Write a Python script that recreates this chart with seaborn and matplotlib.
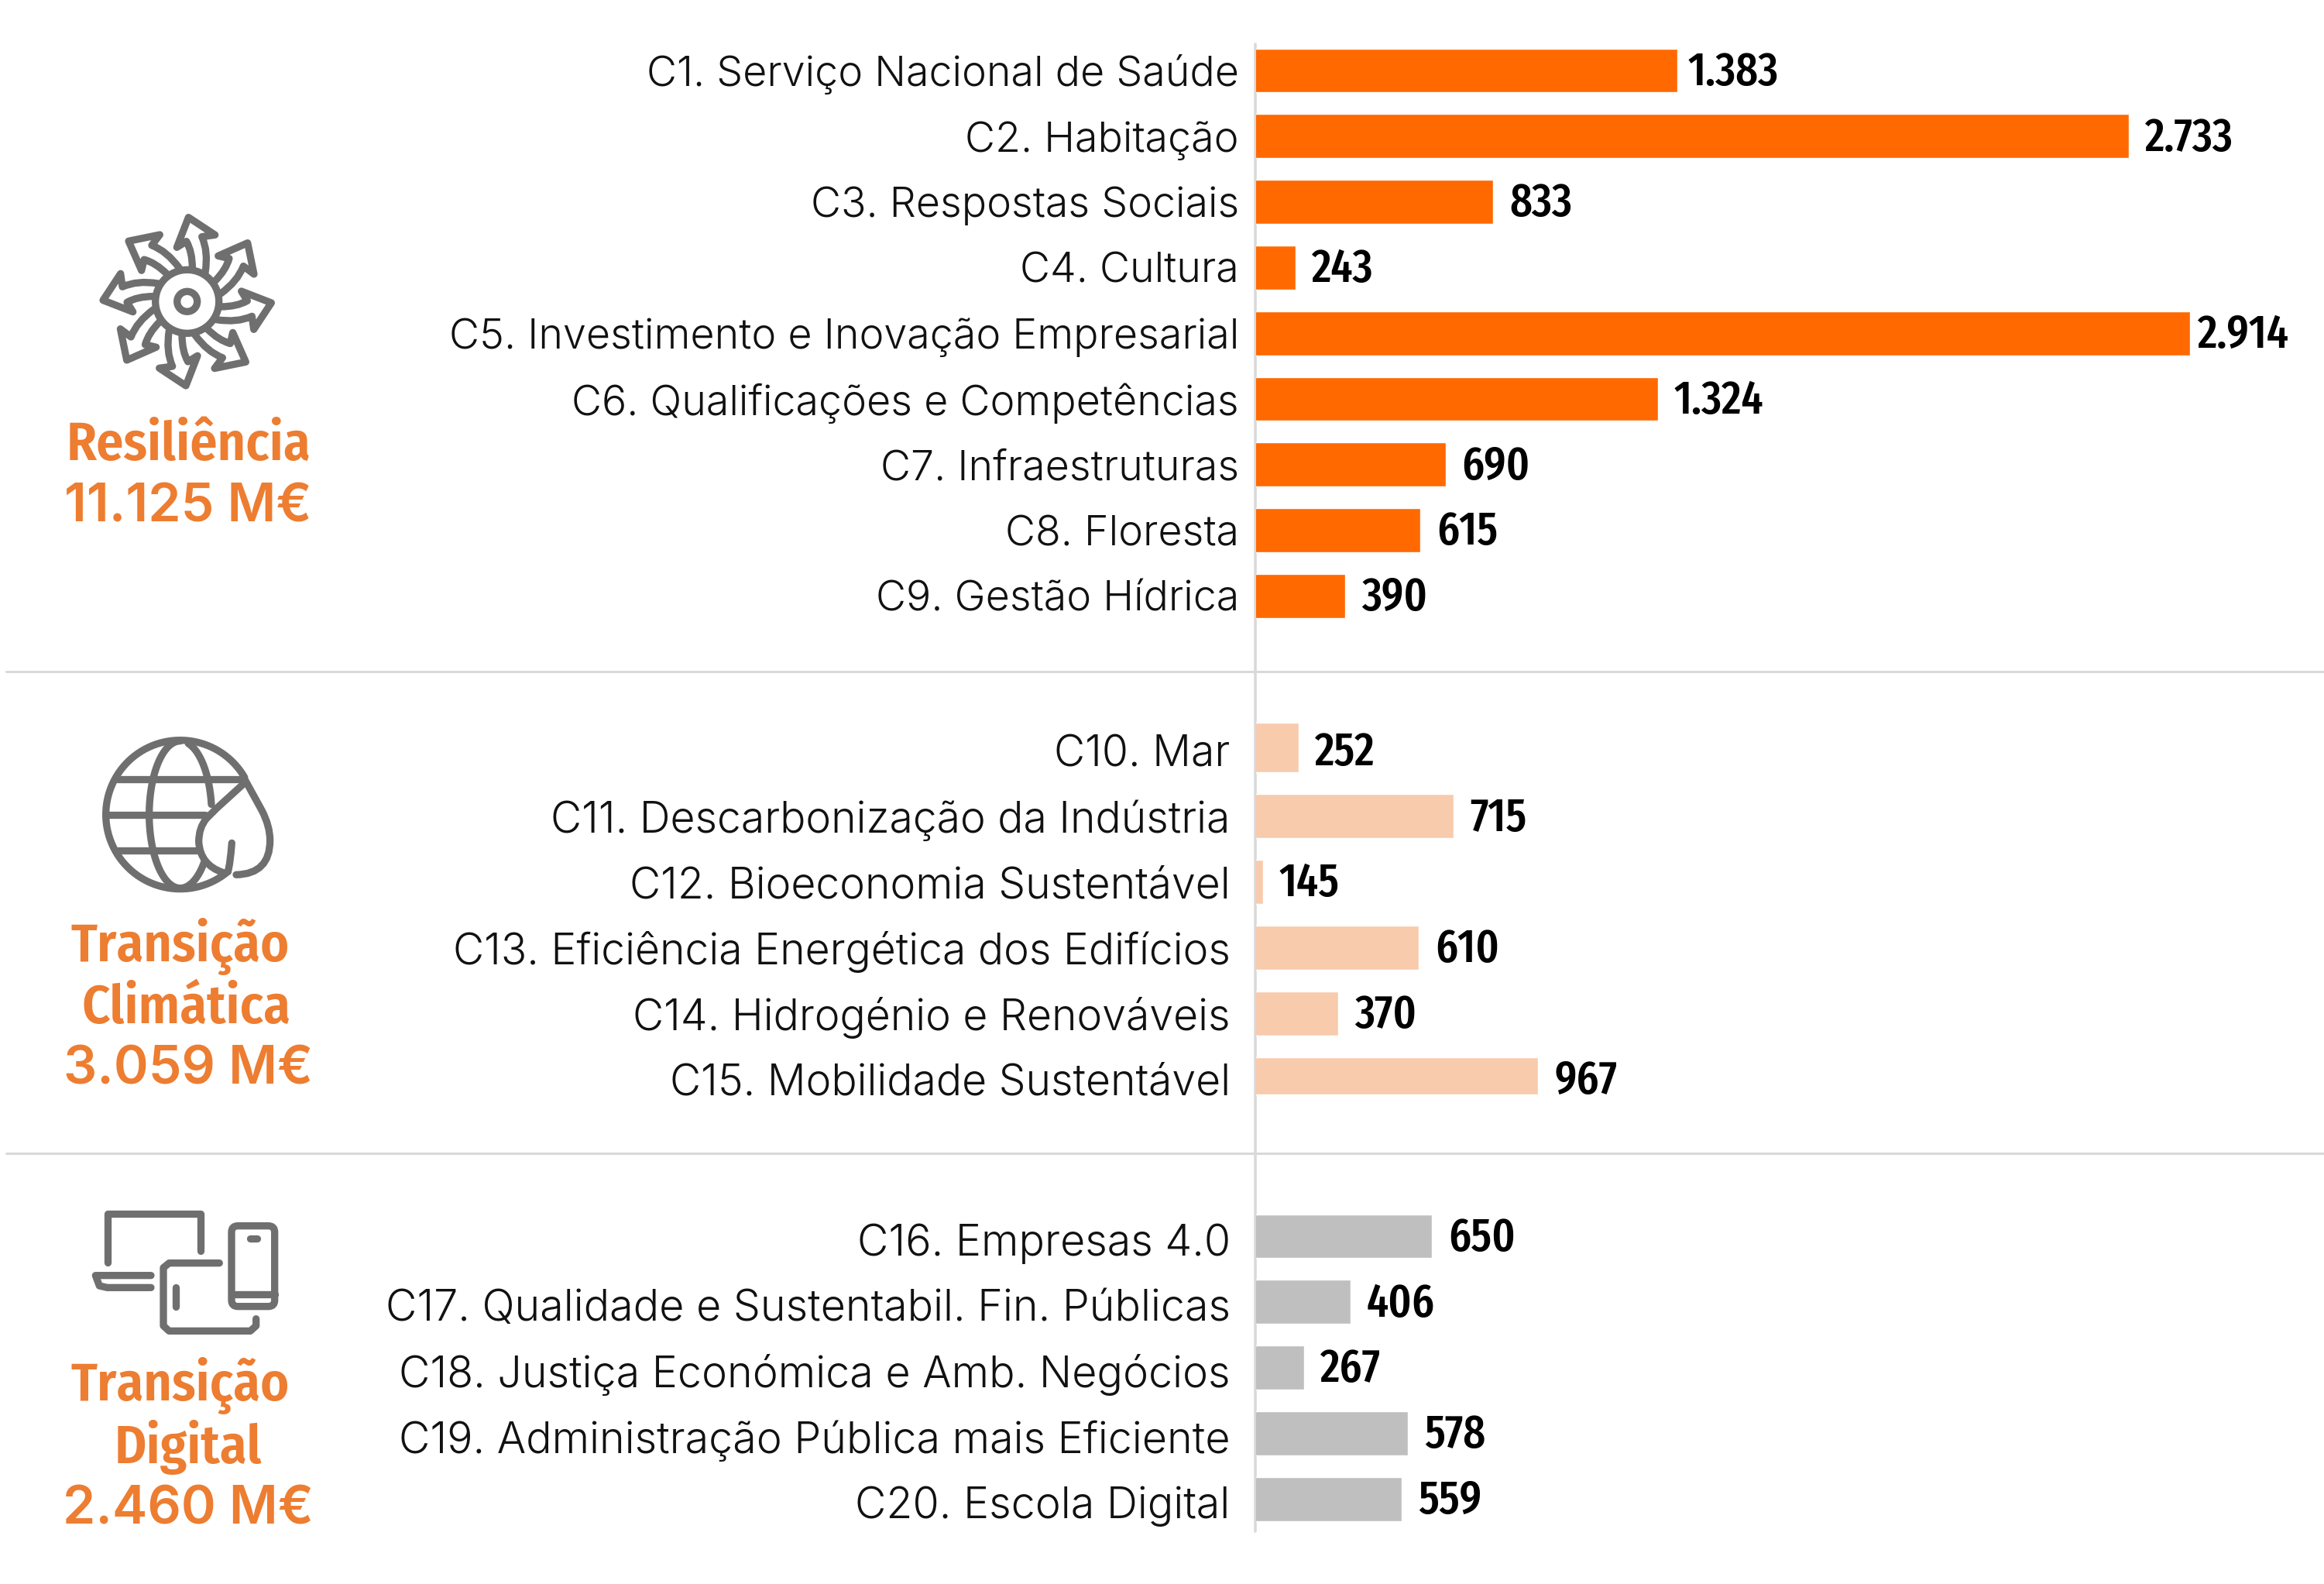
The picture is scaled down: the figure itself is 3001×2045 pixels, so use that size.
import numpy as np
import seaborn as sns
import matplotlib.pyplot as plt
from matplotlib.path import Path
from matplotlib.patches import PathPatch, Circle, FancyBboxPatch
from matplotlib.transforms import ScaledTranslation

res_labels = ['C1. Serviço Nacional de Saúde', 'C2. Habitação', 'C3. Respostas Sociais', 'C4. Cultura',
              'C5. Investimento e Inovação Empresarial', 'C6. Qualificações e Competências',
              'C7. Infraestruturas', 'C8. Floresta', 'C9. Gestão Hídrica']
res_values = [1383, 2733, 833, 243, 2914, 1324, 690, 615, 390]

clima_labels = ['C10. Mar', 'C11. Descarbonização da Indústria', 'C12. Bioeconomia Sustentável',
                'C13. Eficiência Energética dos Edifícios', 'C14. Hidrogénio e Renováveis',
                'C15. Mobilidade Sustentável']
clima_values = [252, 715, 145, 610, 370, 967]

digital_labels = ['C16. Empresas 4.0', 'C17. Qualidade e Sustentabil. Fin. Públicas',
                  'C18. Justiça Económica e Amb. Negócios', 'C19. Administração Pública mais Eficiente',
                  'C20. Escola Digital']
digital_values = [650, 406, 267, 578, 559]

ORANGE = '#ff6900'
PEACH = '#f8cbad'
GREY = '#bfbfbf'
HEAD = '#ed7d31'
ICON = '#706f6f'
LINE = '#d9d9d9'

W, H = 3001, 2045
LABEL_FONT = ['Inter', 'DejaVu Sans']
VALUE_FONT = ['Fira Sans Extra Condensed', 'Liberation Sans', 'DejaVu Sans']
HEAD_FONT = ['Fira Sans Condensed', 'Liberation Sans', 'DejaVu Sans']
TOTAL_FONT = ['Inter', 'DejaVu Sans']

sns.set_theme(style='white')
fig = plt.figure(figsize=(W / 100, H / 100), dpi=100, facecolor='white')


def draw_group(labels, values, color, top, pad, size, shift=0):
    pitch = 84.8
    left = 1622
    ax = fig.add_axes([left / W, 1 - (top + pitch * len(values)) / H, (W - left) / W, pitch * len(values) / H])
    sns.barplot(x=values, y=labels, color=color, saturation=1, width=0.67, ax=ax)
    # axis really starts above zero in the original
    ax.set_xlim(124, 3315)
    ax.set_ylim(len(values) - 0.5, -0.5)
    ax.set_xlabel('')
    ax.set_ylabel('')
    ax.set_xticks([])
    ax.tick_params(axis='y', length=0, pad=pad)
    ax.patch.set_alpha(0)
    for tick in ax.get_yticklabels():
        tick.set_fontfamily(LABEL_FONT)
        tick.set_fontweight(300)
        tick.set_fontsize(size)
        tick.set_color('#111111')
        if shift:
            tick.set_transform(tick.get_transform() + ScaledTranslation(0, -shift / 100, fig.dpi_scale_trans))
    sns.despine(ax=ax, left=True, bottom=True)
    texts = ax.bar_label(ax.containers[0], labels=[f'{v:,}'.replace(',', '.') for v in values],
                         padding=15, fontsize=44, family=VALUE_FONT, fontweight=500, color='black')
    for t in texts:
        t.xyann = (15, -2)
    return ax, texts


# overlay in pixel coords for rules, icons and headings
bg = fig.add_axes([0, 0, 1, 1])
bg.set_xlim(0, W)
bg.set_ylim(H, 0)
bg.axis('off')

for y in [867, 1489]:
    bg.plot([8, W], [y, y], color=LINE, lw=2.2)
bg.plot([1621, 1621], [57, 1977], color=LINE, lw=2.6)

ax1, t1 = draw_group(res_labels, res_values, ORANGE, 48.6, 16, 38.7)
ax2, t2 = draw_group(clima_labels, clima_values, PEACH, 926.6, 24, 39.8)
ax3, t3 = draw_group(digital_labels, digital_values, GREY, 1553.6, 24, 40, shift=4)

# these two sit closer to their bars
t1[0].xyann = (9.5, -2)
t1[4].xyann = (7.5, -2)

# first and last bar of the middle group are not the same height as the rest
bars = ax2.containers[0]
bars[0].set_y(bars[0].get_y() - 8 / 84.8)
bars[0].set_height(bars[0].get_height() + 8 / 84.8)
bars[5].set_height(bars[5].get_height() - 8.5 / 84.8)


def heading(x, y, text):
    bg.text(x, y, text, color=HEAD, fontsize=50.5, fontweight=600, family=HEAD_FONT, ha='center', va='center')


def total(x, y, text):
    bg.text(x, y, text, color=HEAD, fontsize=49, fontweight=600, family=TOTAL_FONT, ha='center', va='center')


heading(243, 575, 'Resiliência')
total(243, 655, '11.125 M€')
heading(233, 1222, 'Transição')
heading(241, 1302, 'Climática')
total(243, 1382, '3.059 M€')
heading(233, 1789, 'Transição')
heading(243, 1869, 'Digital')
total(243, 1949, '2.460 M€')

lw = 6.7
style = dict(fill=False, edgecolor=ICON, lw=lw, capstyle='round', joinstyle='round')

# resilience icon, one arrow turned eight times
cx, cy = 241.7, 389.3
M, L, C = Path.MOVETO, Path.LINETO, Path.CURVE3
arrow = np.array([(565, 318), (565, 255), (542, 215), (505, 238), (550, 122), (653, 190),
                  (602, 197), (628, 255), (615, 335)], dtype=float)
arrow = (arrow - [545, 448]) / 3
codes = [M, C, C, L, L, L, L, C, C]
for k in range(8):
    a = np.deg2rad(45 * k)
    rot = np.array([[np.cos(a), -np.sin(a)], [np.sin(a), np.cos(a)]])
    pts = arrow @ rot.T + [cx, cy]
    bg.add_patch(PathPatch(Path(pts, codes), **style))
bg.add_patch(Circle((cx, cy), 41, **style))
bg.add_patch(Circle((cx, cy), 13, **style))


def z2(x, y):
    return 60 + x / 3, 920 + y / 3


# globe and leaf
theta = np.deg2rad(np.linspace(-30, -310, 90))
gx = 518 + 288 * np.cos(theta)
gy = 395 + 288 * np.sin(theta)
bg.plot(*zip(*[z2(x, y) for x, y in zip(gx, gy)]), color=ICON, lw=lw, solid_capstyle='round')
for pts in [[(275, 257), (765, 257)], [(240, 395), (615, 395)], [(275, 533), (590, 533)]]:
    bg.plot(*zip(*[z2(*p) for p in pts]), color=ICON, lw=lw)
t = np.deg2rad(np.linspace(90, 270, 50))
bg.plot(*zip(*[z2(518 + 120 * np.cos(a), 395 + 285 * np.sin(a)) for a in t]), color=ICON, lw=lw)
t = np.deg2rad(np.linspace(-75, -8, 30))
bg.plot(*zip(*[z2(518 + 122 * np.cos(a), 395 + 285 * np.sin(a)) for a in t]), color=ICON, lw=lw)
t = np.deg2rad(np.linspace(40, 90, 20))
bg.plot(*zip(*[z2(518 + 122 * np.cos(a), 395 + 285 * np.sin(a)) for a in t]), color=ICON, lw=lw)
leaf = [(770, 262), (835, 380), (866, 440), (866, 495), (866, 625), (735, 628)]
bg.add_patch(PathPatch(Path([z2(*p) for p in leaf], [M, L, C, C, C, C]), **style))
inner = [(770, 270), (660, 370), (620, 410), (590, 445), (590, 500), (595, 590), (685, 620)]
bg.add_patch(PathPatch(Path([z2(*p) for p in inner], [M, L, L, C, C, C, C]), **style))
stem = [(718, 505), (712, 585), (703, 616)]
bg.add_patch(PathPatch(Path([z2(*p) for p in stem], [M, C, C]), **style))


def z3(x, y):
    return 60 + x / 3, 1530 + y / 3


# devices
lines = [
    [(237, 300), (237, 110), (597, 110), (597, 255)],
    [(405, 350), (190, 350), (205, 390), (235, 397), (405, 397)],
    [(670, 302), (475, 302), (453, 320), (453, 545), (475, 565), (790, 565), (812, 545), (812, 518)],
    [(500, 397), (500, 470)],
    [(717, 422), (884, 422)],
    [(788, 206), (817, 206)],
]
for pts in lines:
    bg.plot(*zip(*[z3(*p) for p in pts]), color=ICON, lw=lw, solid_capstyle='round', solid_joinstyle='round')
px, py = z3(717, 158)
pw, ph = 167 / 3, 312 / 3
bg.add_patch(FancyBboxPatch((px + 8, py + 8), pw - 16, ph - 16, boxstyle='round,pad=8', **style))

fig.savefig('out.png', dpi=100)
